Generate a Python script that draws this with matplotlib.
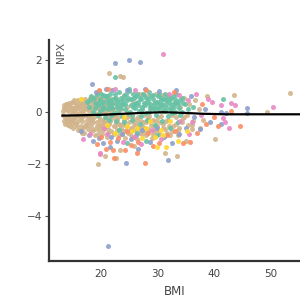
import matplotlib
matplotlib.use("Agg")
import matplotlib.pyplot as plt

# ---- data ----
tan_bmi = [13.2,13.4,13.5,13.8,13.9,14.1,14.2,14.4,14.6,14.7,14.9,15.0,15.1,15.3,15.4,15.6,15.7,15.9,16.0,16.1,
           16.3,16.4,16.6,16.7,16.9,17.0,17.1,17.3,17.4,17.6,17.7,17.9,18.0,18.1,18.3,18.4,18.6,18.7,18.9,19.0,
           19.1,19.3,19.4,19.6,19.7,19.9,20.0,20.2,20.3,20.5,20.6,20.8,20.9,21.1,21.2,21.4,21.5,21.7,21.8,22.0,
           13.3,13.6,13.7,14.0,14.3,14.5,14.8,15.2,15.5,15.8,16.2,16.5,16.8,17.2,17.5,17.8,18.2,18.5,18.8,19.2,
           19.5,19.8,20.1,20.4,20.7,21.0,21.3,21.6,21.9,22.2,
           13.5,13.9,14.2,14.6,15.0,15.3,15.6,16.0,16.3,16.6,16.9,17.3,17.6,18.0,18.3,18.6,18.9,19.2,19.5,19.8,
           20.1,20.4,20.7,21.0,21.3,21.6,21.9,22.3,
           14.0,14.4,14.9,15.4,15.9,16.4,16.8,17.2,17.6,18.1,18.5,19.0,19.4,19.9,20.3,20.8,21.2,21.7,22.1,22.5,
           22.6,22.8,23.0,23.2,23.4,23.6,23.8,24.0,24.2,24.4,24.6,24.8,25.0,25.2,25.4,25.6,25.8,26.0,26.2,26.4,
           26.6,26.8,27.0,27.2,27.4,27.6,27.8,28.0,28.2,28.4,28.6,28.8,29.0,29.2,29.4,29.6,29.8,30.0,30.3,30.6,
           30.9,31.2,31.5,31.8,32.1,32.4,32.7,33.0,33.3,33.6,33.9,34.3,34.7,35.1,35.5,36.0,36.6,37.2,38.0,38.7,
           40.1,43.5,49.3,53.3,35.0,33.4,31.3,25.9,23.3,22.6,20.7,19.5,21.4,23.3,23.9,
           22.7,24.1,25.5,26.9,28.3,29.7,31.0,32.3,24.5,27.5,30.4,22.9,
           22.4,22.9,23.5,23.9,24.3,24.9,25.3,25.9,26.3,26.9,27.3,27.9,28.3,28.9,29.3,29.9,30.4,30.9,31.4,32.0,
           32.6,33.2,33.8,34.5,35.3,36.3,37.4,
           22.5,23.1,23.7,24.6,25.1,25.7,26.5,27.1,27.7,28.5,29.1,29.7,30.6,31.6,32.5,33.5,34.6,36.0,
           14.8,15.6,16.2,16.9,17.7,18.4,19.1,19.8,20.5,21.2,21.9,
           13.6,14.3,15.1,15.8,16.6,17.4,18.2,19.0,19.7,20.5,21.4]
tan_npx = [-0.10,0.15,-0.35,0.30,-0.20,0.05,-0.50,0.35,-0.30,0.20,-0.05,-0.60,0.40,-0.25,0.10,-0.45,0.25,-0.70,0.45,-0.15,
           0.00,-0.55,0.30,-0.35,0.15,-0.80,0.50,-0.10,-0.45,0.35,-0.65,0.05,-0.25,0.55,-0.75,0.20,-0.40,0.40,-0.90,-0.05,
           0.60,-0.55,0.25,-0.20,-0.70,0.45,0.05,-0.85,-0.30,0.30,-0.60,0.60,-0.15,-0.95,0.15,-0.45,0.50,-0.75,-0.05,0.35,
           0.05,-0.25,0.20,-0.40,0.10,-0.15,0.40,-0.40,0.30,-0.10,0.20,-0.25,-0.60,0.25,-0.30,0.45,-0.55,0.00,-0.20,0.35,
           -0.85,0.10,-0.50,0.45,-0.35,0.25,-0.65,0.05,-0.25,-0.85,
           0.25,0.10,-0.25,-0.55,0.15,0.45,-0.05,-0.35,0.35,-0.80,-0.15,0.40,-0.50,0.30,0.10,-0.70,0.50,-0.40,0.15,-0.30,
           0.55,-0.70,0.00,-0.55,0.40,-0.35,0.15,-0.55,
           0.30,-0.40,-0.30,-0.20,0.15,0.50,0.05,-0.55,0.10,-0.40,0.45,-0.65,0.55,-0.50,0.20,-0.20,-0.80,0.30,-0.10,0.10,
           -0.40,-0.70,-0.20,-0.90,-0.50,0.10,-0.75,-0.30,-1.00,-0.55,0.20,-0.80,-0.15,-0.60,-0.95,-0.35,0.30,-0.70,-0.45,-1.05,
           -0.20,-0.65,0.05,-0.85,-0.40,-0.60,0.35,-0.90,-0.25,-0.70,0.15,-0.50,-1.00,-0.30,-0.75,0.40,-0.55,-0.20,-0.85,0.25,
           -0.45,-0.65,0.50,-0.30,-0.90,0.10,-0.55,0.35,-0.20,-0.70,0.20,-0.40,0.55,-0.10,0.30,-0.50,0.45,0.10,-0.30,0.63,
           -1.03,0.64,0.01,0.72,-1.10,-1.68,-1.56,-1.30,-1.47,-1.78,-1.70,-1.99,1.50,1.40,1.33,
           0.55,0.65,0.45,0.70,0.60,0.70,0.65,0.55,0.00,-0.10,0.05,0.25,
           -0.55,-0.30,-0.60,-0.45,-0.75,-0.40,-0.65,-0.50,-0.30,-0.80,-0.55,-0.40,-0.65,-0.35,-0.55,-0.70,-0.40,-0.60,-0.35,-0.55,
           -0.75,-0.45,-0.60,-0.25,-0.50,-0.35,-0.60,
           -0.15,-0.45,-0.85,-0.20,-0.85,-0.25,-0.60,-0.35,-0.75,-0.15,-0.85,-0.35,-0.15,-0.80,-0.10,-0.90,-0.20,-0.65,
           -0.45,0.20,-0.70,0.35,-0.15,-0.30,0.20,-0.60,0.05,-0.45,0.10,
           -0.45,0.25,0.05,-0.55,-0.05,0.15,-0.10,0.25,-0.05,-0.40,-0.25]

teal_bmi = [17.5,17.9,18.3,18.6,18.9,19.2,19.5,19.8,20.1,20.4,20.7,21.0,21.3,21.6,21.9,22.2,22.5,22.8,23.1,23.4,
            23.7,24.0,24.3,24.6,24.9,25.2,25.5,25.8,26.1,26.4,26.7,27.0,27.3,27.6,27.9,28.2,28.5,28.8,29.1,29.4,
            29.7,30.0,30.3,30.6,30.9,31.2,31.5,31.8,32.1,32.4,32.7,33.0,33.4,33.8,34.2,34.8,35.4,
            18.1,18.8,19.4,19.9,20.3,20.8,21.2,21.7,22.1,22.6,23.0,23.5,23.9,24.4,24.8,25.3,25.7,26.2,26.6,27.1,
            27.5,28.0,28.4,28.9,29.3,29.8,30.2,30.7,31.1,31.6,32.0,32.5,33.1,33.6,34.0,34.5,
            19.0,19.6,20.0,20.6,21.1,21.5,22.0,22.4,22.9,23.3,23.8,24.2,24.7,25.1,25.6,26.0,26.5,26.9,27.4,27.8,
            28.3,28.7,29.2,29.6,30.1,30.5,31.0,31.4,31.9,32.3,32.8,33.3,33.9,
            21.4,22.7,24.0,25.4,26.8,28.1,29.5,30.8,32.2,33.5,23.2,26.3,29.9,27.9,22.4,19.6,25.0,41.5,36.2,24.5,
            20.2,21.8,23.6,25.9,27.2,28.6,30.0,31.3,32.9,34.3]
teal_npx = [0.40,0.20,0.60,0.00,0.35,0.70,-0.10,0.50,0.25,0.65,-0.20,0.45,0.10,0.70,0.30,-0.05,0.55,0.20,0.75,0.40,
            -0.15,0.60,0.10,0.45,0.80,0.25,-0.10,0.55,0.35,0.70,0.05,0.50,0.20,0.65,-0.05,0.40,0.75,0.15,0.50,0.30,
            -0.10,0.60,0.20,0.45,0.05,0.70,0.30,-0.15,0.50,0.25,0.60,0.00,0.40,0.15,0.55,0.30,0.10,
            0.45,0.55,0.25,0.05,0.40,0.60,0.30,-0.10,0.50,0.35,0.00,0.55,0.30,0.70,-0.05,0.50,0.20,0.60,0.40,-0.15,
            0.35,0.55,0.00,0.60,0.10,0.40,0.70,0.30,0.50,0.15,0.40,-0.05,0.50,0.30,-0.10,0.35,
            0.15,0.40,0.70,0.15,0.60,0.45,0.15,0.70,0.45,0.15,0.45,0.30,0.55,0.00,0.70,0.15,0.25,0.55,0.70,0.25,
            0.50,0.30,0.65,0.20,0.35,0.55,0.20,0.45,0.60,0.10,0.35,0.70,0.45,
            -0.30,-0.35,-0.40,-0.30,-0.45,-0.30,-0.50,-0.35,-0.60,-0.40,-0.70,-0.80,-0.90,-1.10,1.36,0.80,0.90,0.49,0.20,-1.20,
            0.10,0.20,0.25,0.30,0.10,0.20,0.10,0.05,0.20,0.00]

blue_bmi = [22.4,24.9,26.8,18.4,21.2,24.4,21.5,26.6,31.9,45.7,45.8,41.2,42.0,41.2,
            17.8,18.5,19.6,20.4,21.8,22.9,23.7,25.3,26.1,27.3,28.6,29.9,31.1,32.5,33.7,34.9,36.4,37.5,38.3,39.2,
            22.0,24.6,27.7,30.2,33.2,35.8,20.9,16.5,19.1]
blue_npx = [1.90,2.01,1.91,1.09,-5.14,-1.97,-1.33,-1.42,-1.83,0.17,-0.05,-0.01,-0.05,-0.47,
            -0.90,-1.10,-1.00,-1.20,-0.95,-1.10,-0.85,-1.05,-0.90,-0.70,-1.15,-0.60,-0.95,-1.20,-0.85,-0.60,-0.20,-0.65,0.10,-0.40,
            0.85,0.85,0.90,0.80,0.85,0.60,0.90,-0.75,0.75]

orange_bmi = [27.7,22.2,20.8,22.1,24.2,26.3,25.2,30.2,35.7,44.5,40.6,42.9,
              19.7,21.3,20.0,21.6,23.0,24.6,26.5,28.3,29.2,31.6,33.0,34.4,36.9,38.6,37.8,39.9,32.9,28.0,19.2]
orange_npx = [-1.96,-1.76,-1.44,-1.46,-1.46,-1.59,-1.26,-1.18,-1.15,-0.53,-0.53,0.04,
              0.85,0.90,-0.95,-1.15,-1.00,-0.75,-1.15,-0.80,-1.30,-0.90,-0.75,-1.20,-0.80,-0.45,0.30,-0.20,0.75,0.85,-1.25]

pink_bmi = [31.0,19.9,50.3,43.6,42.9,41.2,39.6,41.5,41.8,42.6,16.9,19.8,
            18.0,21.0,23.8,25.8,27.0,29.0,30.6,32.0,33.8,35.3,36.7,37.6,38.9,35.6,34.0,22.5,26.0,20.6,36.0]
pink_npx = [2.23,-1.60,0.20,0.27,0.33,0.25,0.40,-0.24,-0.40,-0.60,-1.05,-1.59,
            -0.85,-0.85,-1.15,-0.95,-1.25,-0.70,-1.05,0.70,0.65,0.45,0.70,-0.10,0.50,-0.85,-0.35,0.90,0.85,-0.60,-0.40]

yellow_bmi = [31.5,16.4,21.0,22.5,24.5,25.5,26.3,27.2,28.0,29.5,30.5,31.0,32.2,33.5,28.6,24.0,35.2,29.8]
yellow_npx = [-1.36,0.50,-0.50,-0.80,-0.55,-0.75,-0.60,-1.00,-0.60,-0.95,-0.70,-0.90,-0.35,-1.10,-0.35,-0.20,-0.75,-1.35]

trend_bmi = [13.2,16.0,20.0,24.0,28.0,31.0,34.0,38.0,42.0,48.0,55.0]
trend_npx = [-0.14,-0.13,-0.11,-0.07,-0.03,-0.01,-0.03,-0.07,-0.09,-0.09,-0.09]

x_ticks = [20, 30, 40, 50]
y_ticks = [-4, -2, 0, 2]

# ---- plot ----
fig = plt.figure(figsize=(3, 3), dpi=100)
ax = fig.add_axes([0.163, 0.13, 0.837, 0.737])

groups = [
    (tan_bmi, tan_npx, "#d2b48c"),
    (teal_bmi, teal_npx, "#66c2a5"),
    (blue_bmi, blue_npx, "#8da0cb"),
    (orange_bmi, orange_npx, "#fc8d62"),
    (pink_bmi, pink_npx, "#e78ac3"),
    (yellow_bmi, yellow_npx, "#ffd92f"),
]
for xs, ys, c in groups:
    ax.scatter(xs, ys, s=13, c=c, linewidths=0, alpha=0.9, zorder=2)

ax.plot(trend_bmi, trend_npx, color="black", lw=1.6, zorder=3)

ax.set_xlim(10.8, 55.1)
ax.set_ylim(-5.73, 2.77)
ax.set_xticks(x_ticks)
ax.set_yticks(y_ticks)
ax.set_yticklabels([f"\u2212{abs(v)}" if v < 0 else str(v) for v in y_ticks])

for s in ["top", "right"]:
    ax.spines[s].set_visible(False)
for s in ["left", "bottom"]:
    ax.spines[s].set_color("#333333")
    ax.spines[s].set_linewidth(1.6)

ax.tick_params(axis="y", length=3, width=0.8, color="#555555", labelsize=7.5, labelcolor="#444444", pad=2)
ax.tick_params(axis="x", length=0, labelsize=7.5, labelcolor="#444444", pad=6)

ax.set_xlabel("BMI", fontsize=8.5, color="#444444", labelpad=4)
ax.text(0.03, 0.99, "NPX", transform=ax.transAxes, rotation=90, ha="left", va="top",
        fontsize=7.5, color="#555555")

fig.savefig("out.png", dpi=100)
